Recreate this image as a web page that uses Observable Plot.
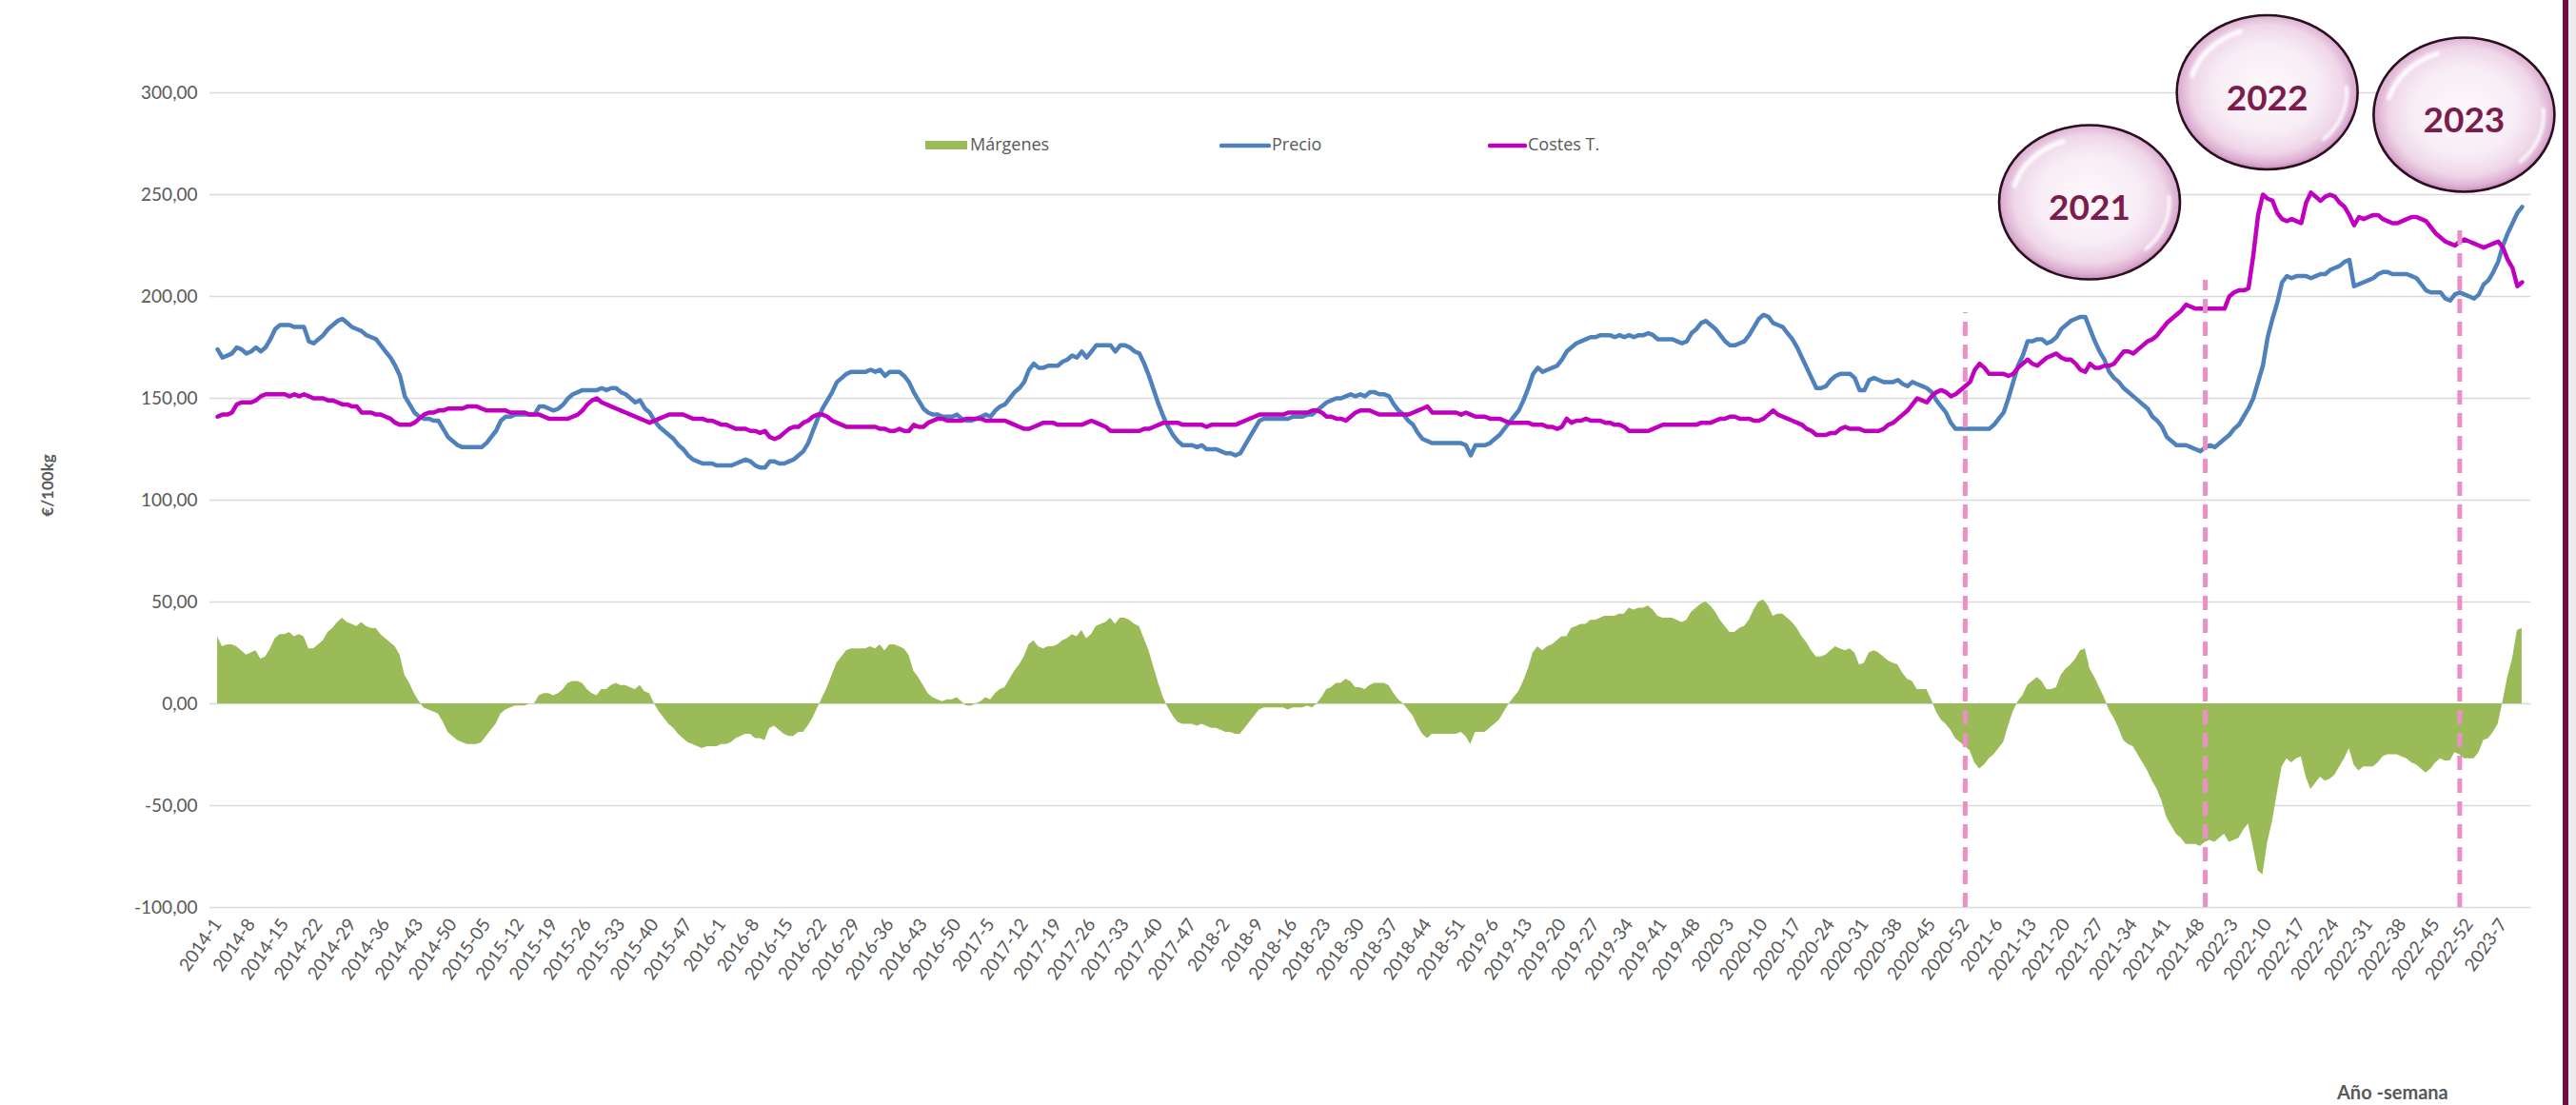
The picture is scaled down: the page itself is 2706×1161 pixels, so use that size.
<!DOCTYPE html>
<html>
<head>
<meta charset="utf-8">
<script src="https://cdn.jsdelivr.net/npm/d3@7"></script>
<script src="https://cdn.jsdelivr.net/npm/@observablehq/plot@0.6"></script>
<style>
  html, body { margin: 0; padding: 0; background: #ffffff; }
  #chart { width: 2706px; height: 1161px; }
</style>
</head>
<body>
<div id="chart"></div>
<script>
// ---------------- DATA ----------------
const years = [2014, 2015, 2016, 2017, 2018, 2019, 2020, 2021, 2022, 2023];

// Precio (€/100kg), one value per week
const precio2014 = [174,170,171,172,175,174,172,173,175,173,175,179,184,186,186,186,185,185,185,178,177,179,181,184,186,188,189,187,185,184,183,181,180,179,176,173,170,166,161,151,147,143,141,140,140,139,139,135,131,129,127,126];
const precio2015 = [126,126,126,126,128,131,134,139,141,141,142,142,142,142,142,146,146,145,144,145,147,150,152,153,154,154,154,154,155,154,155,155,153,152,150,148,149,145,143,139,136,134,132,130,127,125,122,120,119,118,118,118,117];
const precio2016 = [117,117,117,118,119,120,119,117,116,116,119,119,118,118,119,120,122,124,128,134,140,145,149,153,158,160,162,163,163,163,163,164,163,164,161,163,163,163,161,158,153,149,145,143,142,142,141,141,141,142,140,139];
const precio2017 = [139,140,141,142,141,144,146,147,150,153,155,158,164,167,165,165,166,166,166,168,169,171,170,173,170,173,176,176,176,176,173,176,176,175,173,172,167,161,154,147,141,136,132,129,127,127,127,126,127,125,125,125];
const precio2018 = [124,123,123,122,123,127,131,135,139,140,140,140,140,140,140,141,141,141,142,142,144,146,148,149,150,150,151,152,151,152,151,153,153,152,152,151,147,144,142,139,137,133,130,129,128,128,128,128,128,128,128,127];
const precio2019 = [122,127,127,127,128,130,132,135,138,141,144,149,155,162,165,163,164,165,166,169,173,175,177,178,179,180,180,181,181,181,180,181,180,181,180,181,181,182,181,179,179,179,179,178,177,178,182,184,187,188,186,184];
const precio2020 = [181,178,176,176,177,178,181,185,189,191,190,187,186,185,182,179,175,170,165,160,155,155,156,159,161,162,162,162,160,154,154,159,160,159,158,158,158,159,157,156,158,157,156,155,153,149,146,143,138,135,135,135,135];
const precio2021 = [135,135,135,135,137,140,143,150,158,166,171,178,178,179,179,177,178,180,184,186,188,189,190,190,184,178,173,169,163,160,158,155,153,151,149,147,145,141,139,136,131,129,127,127,127,126,125,124,126,127,126,128];
const precio2022 = [130,132,135,137,141,145,150,158,166,180,189,197,207,210,209,210,210,210,209,210,211,211,213,214,215,217,218,205,206,207,208,209,211,212,212,211,211,211,211,210,209,206,203,202,202,202,199,198,201,202,201,200];
const precio2023 = [199,201,206,208,212,217,225,231,236,241,244];

// Costes T. (€/100kg), one value per week
const costes2014 = [141,142,142,143,147,148,148,148,149,151,152,152,152,152,152,151,152,151,152,151,150,150,150,149,149,148,147,147,146,146,143,143,143,142,142,141,140,138,137,137,137,138,140,142,143,143,144,144,145,145,145,145];
const costes2015 = [146,146,146,145,144,144,144,144,144,143,143,143,143,142,142,142,141,140,140,140,140,140,141,142,144,147,149,150,148,147,146,145,144,143,142,141,140,139,138,139,140,141,142,142,142,142,141,140,140,140,139,139,138];
const costes2016 = [137,137,136,135,135,135,134,134,133,134,131,130,131,133,135,136,136,138,139,141,142,142,141,139,138,137,136,136,136,136,136,136,136,135,135,134,134,135,134,134,137,136,136,138,139,140,140,139,139,139,139,140];
const costes2017 = [140,140,140,139,139,139,139,139,138,137,136,135,135,136,137,138,138,138,137,137,137,137,137,137,138,139,138,137,136,134,134,134,134,134,134,134,135,135,136,137,138,138,138,138,137,137,137,137,137,136,137,137];
const costes2018 = [137,137,137,137,138,139,140,141,142,142,142,142,142,142,143,143,143,143,143,144,144,143,141,141,140,140,139,141,143,144,144,144,143,142,142,142,142,142,142,142,143,144,145,146,143,143,143,143,143,143,142,143];
const costes2019 = [142,141,141,141,140,140,140,139,138,138,138,138,138,137,137,137,136,136,135,136,140,138,139,139,140,139,139,139,138,138,137,137,136,134,134,134,134,134,135,136,137,137,137,137,137,137,137,137,138,138,138,139];
const costes2020 = [140,140,141,141,140,140,140,139,139,140,142,144,142,141,140,139,138,137,135,134,132,132,132,133,133,135,136,135,135,135,134,134,134,134,135,137,138,140,142,144,147,150,149,148,151,153,154,153,151,152,154,156,158];
const costes2021 = [164,167,165,162,162,162,162,161,162,165,167,169,167,166,168,170,171,172,170,169,169,167,164,163,167,165,165,166,166,167,170,173,173,172,174,176,178,179,181,184,187,189,191,193,196,195,194,194,194,194,194,194];
const costes2022 = [194,200,202,203,203,204,220,240,250,248,247,241,238,237,238,237,236,246,251,249,247,249,250,249,246,244,240,235,239,238,239,240,240,238,237,236,236,237,238,239,239,238,237,234,231,229,227,226,225,227,228,227];
const costes2023 = [226,225,224,225,226,227,224,218,214,205,207];

// x-axis tick labels (as printed on the chart)
const tickLabels = [
  "2014-1","2014-8","2014-15","2014-22","2014-29","2014-36","2014-43","2014-50",
  "2015-05","2015-12","2015-19","2015-26","2015-33","2015-40","2015-47",
  "2016-1","2016-8","2016-15","2016-22","2016-29","2016-36","2016-43","2016-50",
  "2017-5","2017-12","2017-19","2017-26","2017-33","2017-40","2017-47",
  "2018-2","2018-9","2018-16","2018-23","2018-30","2018-37","2018-44","2018-51",
  "2019-6","2019-13","2019-20","2019-27","2019-34","2019-41","2019-48",
  "2020-3","2020-10","2020-17","2020-24","2020-31","2020-38","2020-45","2020-52",
  "2021-6","2021-13","2021-20","2021-27","2021-34","2021-41","2021-48",
  "2022-3","2022-10","2022-17","2022-24","2022-31","2022-38","2022-45","2022-52",
  "2023-7"
];
const yTicks = [-100, -50, 0, 50, 100, 150, 200, 250, 300];

// Vertical dashed year markers (week label, top value)
const markerWeeks = ["2020-52", "2021-49", "2022-50"];
const markerTops = [192, 208, 235];

// Year bubbles (label, anchor week position, anchor value)
const bubbleLabels = ["2021", "2022", "2023"];
const bubbleWeeks = ["2021-25", "2022-10", "2022-51"];
const bubbleValues = [246, 300, 289];

// Legend entries
const legendNames = ["Márgenes", "Precio", "Costes T."];

// ---------------- BUILD TABLE ----------------
const precioByYear = [precio2014, precio2015, precio2016, precio2017, precio2018, precio2019, precio2020, precio2021, precio2022, precio2023];
const costesByYear = [costes2014, costes2015, costes2016, costes2017, costes2018, costes2019, costes2020, costes2021, costes2022, costes2023];

const rows = [];
const yearStart = {};
let idx = 0;
years.forEach((y, k) => {
  yearStart[y] = idx;
  precioByYear[k].forEach((p, w) => {
    const c = costesByYear[k][w];
    // Márgenes = Precio − Costes T.
    rows.push({ i: idx, week: `${y}-${w + 1}`, precio: p, costes: c, margen: p - c });
    idx++;
  });
});
const weekIndex = (lbl) => { const [y, w] = lbl.split("-").map(Number); return yearStart[y] + w - 1; };
const tickIdx = tickLabels.map(weekIndex);
const markers = markerWeeks.map((w, k) => ({ i: weekIndex(w), top: markerTops[k] }));

const COL = { margen: "#9bbb59", precio: "#4f81bd", costes: "#bf00bf", grid: "#d9d9d9", text: "#595959", dash: "#ec8fc6" };
const fmtY = (d) => (d < 0 ? "-" : "") + Math.abs(d).toFixed(2).replace(".", ",");

const plot = Plot.plot({
  width: 2706,
  height: 1161,
  marginLeft: 220,
  marginRight: 48,
  marginTop: 97,
  marginBottom: 208,
  style: { fontFamily: "Lato, 'Open Sans', sans-serif", fontSize: "19px", color: COL.text, background: "#ffffff", overflow: "visible" },
  x: { type: "linear", domain: [-1.6, 481.8], ticks: tickIdx, tickFormat: (i) => tickLabels[tickIdx.indexOf(i)], tickRotate: -55, tickSize: 0, tickPadding: 14, label: null },
  y: { domain: [-100, 300], ticks: yTicks, tickFormat: fmtY, tickSize: 0, tickPadding: 13, label: null },
  marks: [
    Plot.ruleY(yTicks, { stroke: COL.grid, strokeWidth: 1.5 }),
    Plot.areaY(rows, { x: "i", y: "margen", fill: COL.margen }),
    Plot.line(rows, { x: "i", y: "precio", stroke: COL.precio, strokeWidth: 4.5, strokeLinejoin: "round" }),
    Plot.line(rows, { x: "i", y: "costes", stroke: COL.costes, strokeWidth: 4.5, strokeLinejoin: "round" }),
    Plot.ruleX(markers, { x: "i", y1: -100, y2: "top", stroke: COL.dash, strokeWidth: 5, strokeDasharray: "15,9" })
  ]
});

document.getElementById("chart").appendChild(plot);

// ---------------- ANNOTATIONS ----------------
const svg = d3.select(plot);
const xs = plot.scale("x"), ys = plot.scale("y");

// legend
const lg = svg.append("g").attr("font-family", "'Open Sans', sans-serif").attr("font-size", 18)
  .attr("fill", COL.text).attr("text-anchor", "start");
const legendX = [972, 1283, 1565];
legendNames.forEach((name, k) => {
  const x0 = legendX[k];
  if (k === 0) {
    lg.append("rect").attr("x", x0).attr("y", 148).attr("width", 44).attr("height", 9).attr("fill", COL.margen);
    lg.append("text").attr("x", x0 + 47).attr("y", 158).text(name);
  } else {
    const len = k === 1 ? 50 : 37;
    lg.append("line").attr("x1", x0).attr("x2", x0 + len).attr("y1", 153).attr("y2", 153)
      .attr("stroke", k === 1 ? COL.precio : COL.costes).attr("stroke-width", 4.5).attr("stroke-linecap", "round");
    lg.append("text").attr("x", x0 + len + 3).attr("y", 158).text(name);
  }
});

// axis titles
svg.append("text").attr("transform", "translate(56,510) rotate(-90)").attr("text-anchor", "middle")
  .attr("font-family", "Lato, sans-serif").attr("font-weight", 700).attr("font-size", 17).attr("fill", COL.text).text("€/100kg");
svg.append("text").attr("x", 2455).attr("y", 1155).attr("text-anchor", "start")
  .attr("font-family", "Lato, sans-serif").attr("font-weight", 700).attr("font-size", 20).attr("fill", COL.text).text("Año -semana");

// bubbles
const defs = svg.append("defs");
const rg = defs.append("radialGradient").attr("id", "bubbleFill").attr("cx", "50%").attr("cy", "48%").attr("r", "52%");
[[0, "#fdf9fc"], [0.55, "#f8edf5"], [0.8, "#efd6e9"], [0.93, "#ddb0d2"], [1, "#c48ab8"]].forEach(([o, c]) =>
  rg.append("stop").attr("offset", o).attr("stop-color", c));
const blur = defs.append("filter").attr("id", "soft").attr("x", "-20%").attr("y", "-20%").attr("width", "140%").attr("height", "140%");
blur.append("feGaussianBlur").attr("stdDeviation", 1.6);

const arcPath = (rx, ry, a0, a1) => {
  const r = (a) => a * Math.PI / 180;
  const x0 = rx * Math.cos(r(a0)), y0 = ry * Math.sin(r(a0));
  const x1 = rx * Math.cos(r(a1)), y1 = ry * Math.sin(r(a1));
  return `M${x0},${y0} A${rx},${ry} 0 0 1 ${x1},${y1}`;
};

bubbleLabels.forEach((lbl, k) => {
  const cx = xs.apply(weekIndex(bubbleWeeks[k])), cy = ys.apply(bubbleValues[k]);
  const rx = 95, ry = 81;
  const g = svg.append("g").attr("transform", `translate(${cx},${cy})`);
  g.append("ellipse").attr("rx", rx).attr("ry", ry).attr("fill", "url(#bubbleFill)").attr("stroke", "#2b0f1f").attr("stroke-width", 2.6);
  g.append("path").attr("d", arcPath(rx * 0.86, ry * 0.84, 195, 250)).attr("fill", "none")
    .attr("stroke", "#ffffff").attr("stroke-width", 5).attr("stroke-linecap", "round").attr("opacity", 0.9).attr("filter", "url(#soft)");
  g.append("path").attr("d", arcPath(rx * 0.88, ry * 0.86, -5, 45)).attr("fill", "none")
    .attr("stroke", "#ffffff").attr("stroke-width", 4).attr("stroke-linecap", "round").attr("opacity", 0.85).attr("filter", "url(#soft)");
  g.append("text").attr("text-anchor", "middle").attr("dy", "0.42em").attr("y", 3)
    .attr("font-family", "Lato, sans-serif").attr("font-weight", 700).attr("font-size", 37).attr("fill", "#7b1c4d").text(lbl);
});

// right border
svg.append("rect").attr("x", 2692).attr("y", 0).attr("width", 6).attr("height", 1161).attr("fill", "#6e1140");
svg.append("rect").attr("x", 2698).attr("y", 0).attr("width", 8).attr("height", 1161).attr("fill", "#ececec");
</script>
</body>
</html>
